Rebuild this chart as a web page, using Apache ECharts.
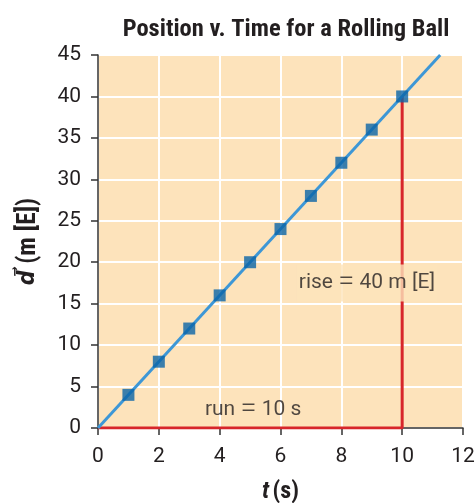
<!DOCTYPE html>
<html><head><meta charset="utf-8">
<script src="https://cdn.jsdelivr.net/npm/echarts@6/dist/echarts.min.js"></script>
<style>html,body{margin:0;padding:0;background:#fff}#c{width:476px;height:503px}</style>
</head><body><div id="c"></div>
<script>
const times = [1, 2, 3, 4, 5, 6, 7, 8, 9, 10];
const positions = [4, 8, 12, 16, 20, 24, 28, 32, 36, 40];
const lineStart = [0, 0];
const lineEnd = [11.25, 45];
const runPath = [[0, 0], [10, 0]];
const risePath = [[10, 0], [10, 40]];
const xTicks = [0, 2, 4, 6, 8, 10, 12];
const yTicks = [0, 5, 10, 15, 20, 25, 30, 35, 40, 45];
const riseLabel = {text: 'rise {e|=} 40 m [E]', at: [8.84, 17.5]};
const runLabel = {text: 'run {e|=} 10 s', at: [5.1, 2.2]};

const NARROW = "'Roboto Condensed', 'Liberation Sans Narrow', Roboto, sans-serif";
const FONT = "Roboto, 'Liberation Sans', sans-serif";
const BG = '#fde3bb';
const chart = echarts.init(document.getElementById('c'));
chart.setOption({
  animation: false,
  title: {
    text: 'Position v. Time for a Rolling Ball',
    left: 281, top: 12, textAlign: 'center',
    textStyle: {fontFamily: NARROW, fontWeight: 'bold', fontSize: 24.5, color: '#231f20'}
  },
  grid: {left: 98, right: 13, top: 55, bottom: 75, show: true, backgroundColor: BG, borderWidth: 0, containLabel: false, outerBoundsMode: 'none'},
  xAxis: {
    type: 'value', min: 0, max: 12, interval: 2,
    axisLine: {show: true, onZero: false, lineStyle: {color: '#333', width: 1.5}},
    axisTick: {show: true, length: 7, lineStyle: {color: '#333', width: 1.5}},
    axisLabel: {fontFamily: FONT, fontSize: 21, color: '#231f20', margin: 18},
    splitLine: {show: true, lineStyle: {color: '#ffffff', width: 2}},
    name: '{i|t} {n|(s)}', nameLocation: 'middle', nameGap: 52,
    nameTextStyle: {rich: {
      i: {fontFamily: NARROW, fontSize: 24, fontWeight: 'bold', fontStyle: 'italic', color: '#231f20'},
      n: {fontFamily: NARROW, fontSize: 24, fontWeight: 'bold', color: '#231f20'}
    }}
  },
  yAxis: {
    type: 'value', min: 0, max: 45, interval: 5,
    axisLine: {show: true, lineStyle: {color: '#333', width: 1.5}},
    axisTick: {show: true, length: 7, lineStyle: {color: '#333', width: 1.5}},
    axisLabel: {fontFamily: FONT, fontSize: 21, color: '#231f20', margin: 17},
    splitLine: {show: true, lineStyle: {color: '#ffffff', width: 2}},
    name: '{i|d\u20D7}  {n|(m [E])}', nameLocation: 'middle', nameGap: 57, nameRotate: 90,
    nameTextStyle: {rich: {
      i: {fontFamily: "'DejaVu Sans Condensed', 'DejaVu Sans', sans-serif", fontSize: 23, fontWeight: 'bold', fontStyle: 'italic', color: '#231f20'},
      n: {fontFamily: NARROW, fontSize: 25, fontWeight: 'bold', color: '#231f20'}
    }}
  },
  series: [
    {
      type: 'line', data: [...runPath, risePath[1]], symbol: 'none', z: 3,
      lineStyle: {color: '#d7262b', width: 3}
    },
    {
      type: 'line', data: [lineStart, lineEnd], symbol: 'none', z: 4,
      lineStyle: {color: '#3d97d6', width: 3}
    },
    {
      type: 'scatter', data: times.map((t, i) => [t, positions[i]]), symbol: 'rect', symbolSize: 12, z: 5,
      itemStyle: {color: '#0a64a8'}
    },
    {
      type: 'scatter', symbolSize: 0, z: 6,
      data: [
        {value: riseLabel.at, label: {show: true, formatter: riseLabel.text, backgroundColor: BG, padding: [4, 2]}},
        {value: runLabel.at, label: {show: true, formatter: runLabel.text}}
      ],
      label: {
        show: true, position: 'inside', fontFamily: FONT, fontSize: 21, color: '#231f20',
        rich: {e: {fontFamily: FONT, fontSize: 29, fontWeight: 300, color: '#231f20'}}
      }
    }
  ]
});
</script></body></html>
